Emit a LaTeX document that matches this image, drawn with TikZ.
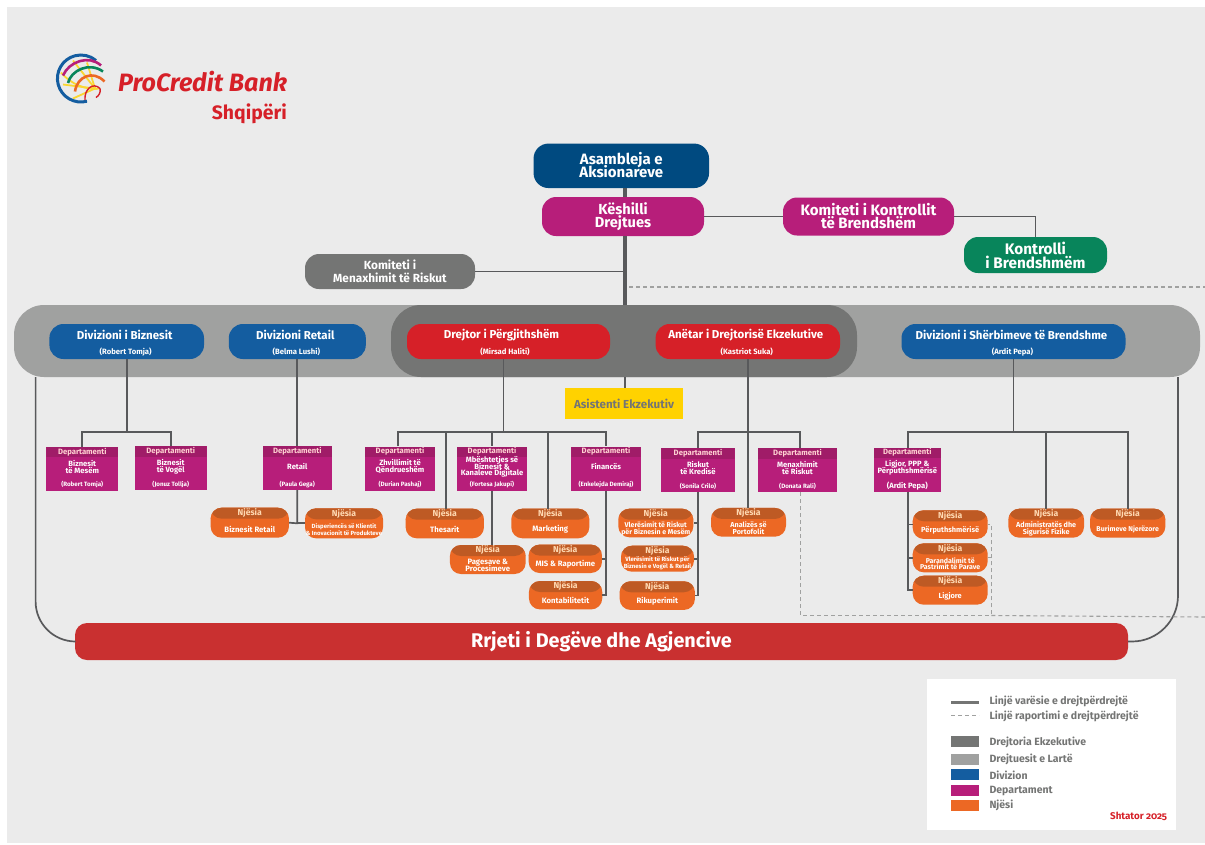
\documentclass[tikz,border=0pt]{standalone}
\usepackage{fontspec}
\setmainfont{Fira Sans}
\newfontfamily\datefont{Fira Sans}[Numbers=OldStyle]
\definecolor{pagegrey}{RGB}{235, 235, 235}
\definecolor{execgrey}{RGB}{116, 117, 116}
\definecolor{seniorgrey}{RGB}{160, 161, 160}
\definecolor{linegrey}{RGB}{88, 89, 91}
\definecolor{divblue}{RGB}{20, 93, 160}
\definecolor{navy}{RGB}{0, 74, 128}
\definecolor{deptpink}{RGB}{183, 30, 122}
\definecolor{deptdark}{RGB}{160, 28, 104}
\definecolor{unitorange}{RGB}{236, 104, 36}
\definecolor{unitdark}{RGB}{190, 90, 36}
\definecolor{bankred}{RGB}{214, 32, 40}
\definecolor{netred}{RGB}{201, 48, 48}
\definecolor{ctrlgreen}{RGB}{8, 133, 91}
\definecolor{asstyellow}{RGB}{255, 210, 0}
\definecolor{logoyellow}{RGB}{250, 215, 50}
\def\fs#1#2{\fontsize{#1}{#2}\selectfont\lineskiplimit=-30pt\relax\bfseries}
\tikzset{
  topbox/.style={rounded corners=14pt, text=white, align=center, inner sep=0pt},
  divbox/.style={rounded corners=14pt, minimum height=35pt, inner sep=0pt},
  deptbox/.style={fill=deptpink, minimum height=44pt, inner sep=0pt,
    path picture={\fill[deptdark] (path picture bounding box.north west) rectangle
      ([yshift=-10.5pt]path picture bounding box.north east);}},
  unitbox/.style={fill=unitorange, rounded corners=11pt, inner sep=0pt,
    path picture={\fill[unitdark] (path picture bounding box.north west) rectangle
      ([yshift=-11pt]path picture bounding box.north east);}},
  label/.style={inner sep=0pt, align=center, text=white},
  link/.style={draw=linegrey, line width=1.7pt},
  trunk/.style={draw=linegrey, line width=3.5pt},
  report/.style={draw=seniorgrey, line width=1.1pt, dash pattern=on 4pt off 3pt},
  swatch/.style={minimum width=28pt, minimum height=11pt, inner sep=0pt},
  legendtext/.style={inner sep=0pt, anchor=west, text=execgrey, font=\fs{10.5}{12}}
}
\newcommand{\divnode}[7][-2]{
  \node[divbox, fill=#5, minimum width=#4pt] (#2) at (#3, 341.5) {};
  \node[label, font=\fs{11.5}{12}] (#2-title) at ([xshift=#1pt, yshift=6.5pt]#2.center) {#6};
  \node[label, font=\fs{7.7}{8}] (#2-who) at ([xshift=0.5*#1pt, yshift=-10.2pt]#2.center) {#7};
}
\newcommand{\deptnode}[7][6.2]{
  \node[deptbox, minimum width=#5pt] (#2) at (#3, #4) {};
  \node[label, text=pink!70!white, font=\fs{7.7}{9}] (#2-head) at ([yshift=-5.2pt]#2.north) {Departamenti};
  \node[label, font=\fs{7.6}{6.8}] (#2-title) at ([yshift=-20.5pt]#2.north) {#6};
  \node[label, font=\fs{#1}{8}] (#2-who) at ([yshift=6pt]#2.south) {#7};
}
\newcommand{\unitnode}[7][7.75]{
  \node[unitbox, minimum width=#5pt, minimum height=#6pt] (#2) at (#3, #4) {};
  \node[label, text=orange!30!white, font=\fs{8.6}{10}] (#2-head) at ([yshift=-5.5pt]#2.north) {Njësia};
  \node[label, font=\fs{#1}{6.8}] (#2-title) at ([yshift=8.8pt]#2.south) {#7};
}

\begin{document}
\begin{tikzpicture}[x=1pt, y=-1pt]

  \useasboundingbox (0, 0) rectangle (1205, 844);
  \fill[white] (0, 0) rectangle (1205, 844);
  \fill[pagegrey] (7, 7) rectangle (1205, 843);

  % logo
  \begin{scope}[shift={(81, 78.5)}, y=1pt, line width=2.6pt]
    \draw[logoyellow, line width=1.8pt] (-8, 18) -- (14, -10) -- (-18, -6);
    \draw[logoyellow, line width=1.8pt] (6, 16) -- (14, -10) -- (-8, -20);
    \draw[logoyellow, line width=1.8pt] (-20, 6) .. controls (-10, -6) and (6, -12) .. (18, -10);
    \draw[divblue, line width=3pt] (6, -22.7) arc[start angle=-75, end angle=-310, radius=23.5];
    \draw[deptpink] (-18, 3) .. controls (-12, 17) and (8, 24) .. (20, 13);
    \draw[ctrlgreen] (-13, -4.5) .. controls (-10, 8) and (8, 17) .. (22, 7);
    \draw[unitorange] (-6, -13) .. controls (-4, 2) and (12, 9) .. (23.5, -3);
    \draw[bankred, line width=1.4pt] (4, -21.5) .. controls (3, -11) and (12, -3) .. (19, -10) .. controls (20, -14) and (18, -17) .. (15, -19);
  \end{scope}
  \node[inner sep=0pt, anchor=west, text=bankred, font=\fs{25.1}{26}\itshape] (bankname) at (118, 82) {ProCredit Bank};
  \node[inner sep=0pt, anchor=east, text=bankred, font=\fs{19.4}{20}] (country) at (287, 114) {Shqipëri};

  % bands
  \node[fill=seniorgrey, rounded corners=30pt, minimum width=1186pt, minimum height=72pt, inner sep=0pt] (seniorband) at (607, 341) {};
  \node[fill=execgrey, rounded corners=30pt, minimum width=466pt, minimum height=72pt, inner sep=0pt] (execband) at (624, 341) {};

  % top of the chart
  \node[topbox, fill=navy, minimum width=175.5pt, minimum height=44.5pt, rounded corners=15pt, font=\fs{15}{13.4}] (asambleja) at (621.3, 165.8) {\raisebox{1.5pt}{Asambleja e}\\\raisebox{1.5pt}{Aksionareve}};
  \node[topbox, fill=deptpink, minimum width=162pt, minimum height=39pt, font=\fs{14.6}{12.7}] (keshilli) at (623, 216.5) {Këshilli\\Drejtues};
  \node[topbox, fill=deptpink, minimum width=171pt, minimum height=38pt, font=\fs{15}{13}] (komkontroll) at (868.5, 216.5) {Komiteti i Kontrollit\\të Brendshëm};
  \node[topbox, fill=ctrlgreen, minimum width=143pt, minimum height=36pt, font=\fs{15.3}{14}] (kontrolli) at (1035.5, 255) {Kontrolli\\i Brendshmëm};
  \node[topbox, fill=execgrey, minimum width=170pt, minimum height=35pt, font=\fs{11.8}{13.5}] (komrisk) at (390, 271.5) {Komiteti i\\Menaxhimit të Riskut};

  % divisions
  \divnode{divbiz}{126.7}{154.6}{divblue}{Divizioni i Biznesit}{(Robert Tomja)}
  \divnode{divret}{297.3}{137}{divblue}{Divizioni Retail}{(Belma Lushi)}
  \divnode[-7]{drejtor}{508.5}{203}{bankred}{Drejtor i Përgjithshëm}{(Mirsad Haliti)}
  \divnode{anetar}{747.8}{184.4}{bankred}{Anëtar i Drejtorisë Ekzekutive}{(Kastriot Suka)}
  \divnode{divsher}{1013.5}{224}{divblue}{Divizioni i Shërbimeve të Brendshme}{(Ardit Pepa)}

  \node[fill=asstyellow, minimum width=118pt, minimum height=31pt, inner sep=0pt, text=execgrey, font=\fs{11.6}{14}] (asistenti) at (624, 403.5) {Asistenti Ekzekutiv};

  % departments
  \deptnode{mesem}{82.3}{468.8}{72}{Biznesit\\të Mesëm}{(Robert Tomja)}
  \deptnode{vogel}{170.7}{468.3}{72}{Biznesit\\të Vogël}{(Jonuz Tollja)}
  \deptnode{retail}{297.3}{468}{69.3}{Retail}{(Paula Gega)}
  \deptnode{zhvillim}{400}{468.5}{70}{Zhvillimit të\\Qëndrueshëm}{(Durian Pashaj)}
  \deptnode{mbeshtet}{492}{468.5}{70}{Mbështetjes së\\Biznesit \&\\Kanaleve Digjitale}{(Fortesa Jakupi)}
  \deptnode{finance}{606}{468.5}{69.4}{Financës}{(Enkelejda Demiraj)}
  \deptnode{riskut}{698}{470}{73.4}{Riskut\\të Kredisë}{(Sonila Crilo)}
  \deptnode{menaxh}{797.5}{470}{79.6}{Menaxhimit\\të Riskut}{(Donata Rali)}
  \deptnode[7.6]{ligjor}{907.3}{469.7}{67.3}{Ligjor, PPP \&\\Përputhshmërisë}{(Ardit Pepa)}

  % units
  \unitnode{bizret}{249.8}{522.7}{78.3}{30}{Biznesit Retail}
  \unitnode[6]{disp}{344}{523.3}{78}{30}{Disperiencës së Klientit\\\& Inovacionit të Produkteve}
  \unitnode{thesar}{444.8}{523.5}{78.3}{29.6}{Thesarit}
  \unitnode{market}{550.3}{523.5}{78}{29.6}{Marketing}
  \unitnode{pages}{487.8}{559.5}{75.7}{29}{Pagesave \&\\Procesimeve}
  \unitnode{mis}{565.3}{558.8}{73.3}{28.4}{MIS \& Raportime}
  \unitnode{kontab}{565.6}{595.2}{73.3}{28.4}{Kontabilitetit}
  \unitnode[7]{vlermes}{655.8}{523}{75}{28.6}{Vlerësimit të Riskut\\për Biznesin e Mesëm}
  \unitnode[6]{vlervog}{657.5}{558.7}{73}{26}{Vlerësimit të Riskut për\\Biznesin e Vogël \& Retail}
  \unitnode{rikup}{657.3}{595.6}{75.3}{28.7}{Rikuperimit}
  \unitnode[7.2]{analiz}{748.5}{522.3}{75}{28.7}{Analizës së\\Portofolit}
  \unitnode[7.4]{perputh}{950.2}{524.6}{75}{28.7}{Përputhshmërisë}
  \unitnode[7]{parand}{950.2}{557.8}{75}{29}{Parandalimit të\\Pastrimit të Parave}
  \unitnode[7.4]{ligjore}{950.2}{590.2}{75}{29}{Ligjore}
  \unitnode[7.2]{admin}{1046.2}{523.2}{75.7}{29}{Administratës dhe\\Sigurisë Fizike}
  \unitnode[7]{burime}{1127.7}{523.2}{75.3}{29}{Burimeve Njerëzore}

  \node[fill=netred, rounded corners=12pt, minimum width=1053pt, minimum height=37pt, inner sep=0pt, text=white, font=\fs{19.8}{24}] (rrjeti) at (601.5, 641.5) {Rrjeti i Degëve dhe Agjencive};

  % bus lines and free ends
  \coordinate (spine) at (625, 188);
  \coordinate (busbiz) at (126.7, 432);
  \coordinate (busdrej) at (503.5, 432);
  \coordinate (busrisk) at (697.8, 432);
  \coordinate (bussher) at (1013.5, 432);
  \coordinate (dropzhv) at (397.7, 432);
  \coordinate (dropthes) at (446, 432);
  \coordinate (dropmbe) at (492, 432);
  \coordinate (dropmark) at (548.3, 432);
  \coordinate (dropfin) at (606, 432);
  \coordinate (dropmen) at (800, 432);
  \coordinate (dropart) at (747.8, 432);
  \coordinate (dropadm) at (1046, 432);
  \coordinate (dropbur) at (1128, 432);
  \coordinate (dropligj) at (908, 432);
  \coordinate (frameleft) at (35.6, 377);
  \coordinate (frameright) at (1178, 377);
  \coordinate (dashtop) at (629, 287);
  \coordinate (dashtopend) at (1205, 287);
  \coordinate (dashcorner) at (800.7, 615.5);
  \coordinate (dashturn) at (991.3, 615.5);
  \coordinate (dashend) at (1205, 617);

  \draw[trunk] (spine |- asambleja.south) -- (spine |- keshilli.north);
  \draw[trunk] (spine |- keshilli.south) -- (spine |- seniorband.north);
  \draw[link] (spine |- komrisk.east) -- (komrisk.east);
  \draw[link] (keshilli.east) -- (komkontroll.west);
  \draw[link] (komkontroll.east) -| (kontrolli.north);
  \draw[link] (spine |- execband.south) -- (spine |- asistenti.north);

  \draw[link, rounded corners=40pt] (frameleft) |- (rrjeti.west);
  \draw[link, rounded corners=46pt] (frameright) |- (rrjeti.east);

  \draw[link] (divbiz.south) -- (busbiz);
  \draw[link] (mesem.north) |- (busbiz) -| (vogel.north);
  \draw[link] (divret.south) -- (retail.north);
  \draw[link] (retail.south) -- (retail.south |- disp.west) -- (bizret.east);
  \draw[link] (retail.south |- disp.west) -- (disp.west);

  \draw[link] (busdrej |- drejtor.south) -- (busdrej);
  \draw[link] (dropzhv |- zhvillim.north) -- (dropzhv) -- (dropfin) -- (dropfin |- finance.north);
  \draw[link] (dropthes) -- (dropthes |- thesar.north);
  \draw[link] (dropmbe) -- (dropmbe |- mbeshtet.north);
  \draw[link] (dropmark) -- (dropmark |- market.north);
  \draw[link] (dropmbe |- mbeshtet.south) -- (dropmbe |- pages.north);
  \draw[link] (dropfin |- finance.south) -- (dropfin |- kontab.east) -- (kontab.east);
  \draw[link] (dropfin |- mis.east) -- (mis.east);

  \draw[link] (anetar.south) -- (dropart) -- (dropart |- analiz.north);
  \draw[link] (busrisk |- riskut.north) -- (busrisk) -- (dropmen) -- (dropmen |- menaxh.north);
  \draw[link] (busrisk |- riskut.south) -- (busrisk |- rikup.east) -- (rikup.east);
  \draw[link] (busrisk |- vlermes.east) -- (vlermes.east);
  \draw[link] (busrisk |- vlervog.east) -- (vlervog.east);

  \draw[link] (divsher.south) -- (bussher);
  \draw[link] (dropligj |- ligjor.north) -- (dropligj) -- (dropbur) -- (dropbur |- burime.north);
  \draw[link] (dropadm) -- (dropadm |- admin.north);
  \draw[link] (dropligj |- ligjor.south) -- (dropligj |- ligjore.west) -- (ligjore.west);
  \draw[link] (dropligj |- perputh.west) -- (perputh.west);
  \draw[link] (dropligj |- parand.west) -- (parand.west);

  \draw[report] (dashtop) -- (dashtopend);
  \draw[report] (dashcorner |- menaxh.south) -- (dashcorner) -- (dashturn) -- (dashturn |- perputh.east) -- (perputh.east);
  \draw[report] (dashturn |- parand.east) -- (parand.east);
  \draw[report] (dashturn) -- (dashend);

  % legend
  \node[fill=white, minimum width=249.3pt, minimum height=151pt, inner sep=0pt] (legend) at (1051.6, 754.5) {};
  \coordinate (keyline) at (951, 702.7);
  \coordinate (keylineend) at (979, 702.7);
  \coordinate (keydash) at (951, 715.3);
  \coordinate (keydashend) at (979, 715.3);
  \draw[draw=execgrey, line width=3pt] (keyline) -- (keylineend);
  \draw[report] (keydash) -- (keydashend);
  \node[legendtext] (keylinetext) at (989.3, 701) {Linjë varësie e drejtpërdrejtë};
  \node[legendtext] (keydashtext) at (989.3, 716.7) {Linjë raportimi e drejtpërdrejtë};
  \node[swatch, fill=execgrey] (keyexec) at (965, 741.8) {};
  \node[swatch, fill=seniorgrey] (keysenior) at (965, 759.5) {};
  \node[swatch, fill=divblue] (keydiv) at (965, 774.5) {};
  \node[swatch, fill=deptpink] (keydept) at (965, 790.2) {};
  \node[swatch, fill=unitorange] (keyunit) at (965, 805.8) {};
  \node[legendtext] (keyexectext) at (989.3, 742.3) {Drejtoria Ekzekutive};
  \node[legendtext] (keyseniortext) at (989.3, 759.3) {Drejtuesit e Lartë};
  \node[legendtext] (keydivtext) at (989.3, 775) {Divizion};
  \node[legendtext] (keydepttext) at (989.3, 790.7) {Departament};
  \node[legendtext] (keyunittext) at (989.3, 805.3) {Njësi};
  \node[inner sep=0pt, anchor=east, text=bankred, font=\datefont\fs{9.8}{12}] (legenddate) at (1167.3, 816) {Shtator 2025};

\end{tikzpicture}
\end{document}
